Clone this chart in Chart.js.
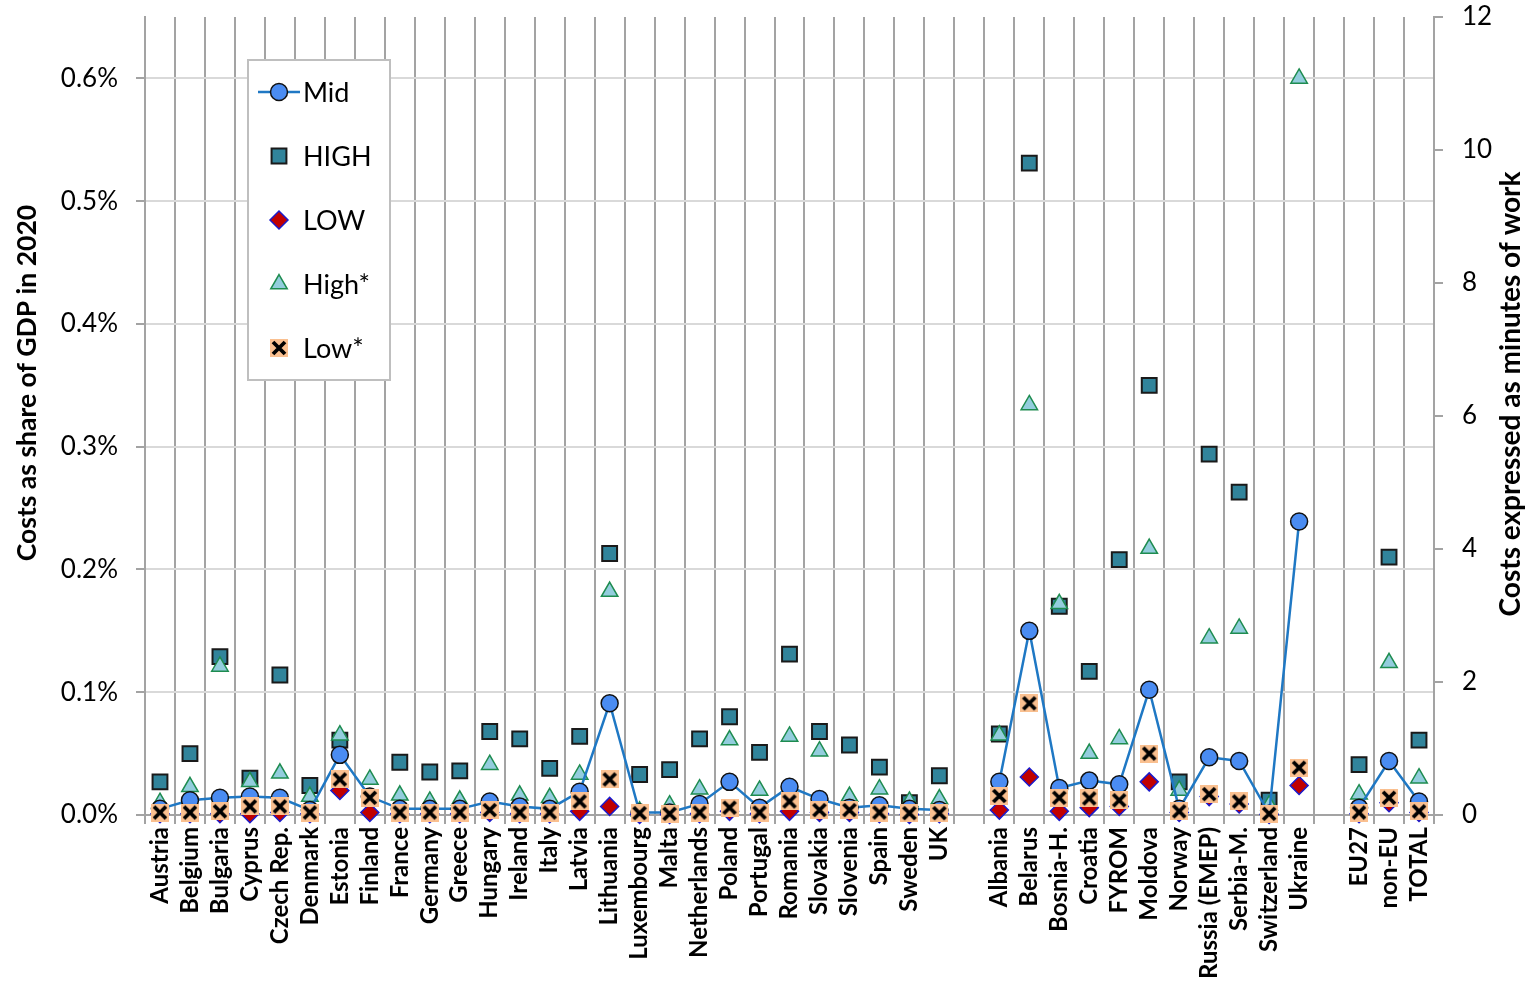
<!DOCTYPE html>
<html>
<head>
<meta charset="utf-8">
<script src="https://cdn.jsdelivr.net/npm/chart.js@4.4.1/dist/chart.umd.min.js"></script>
<style>
  html, body { margin: 0; padding: 0; background: #fff; }
  #wrap { width: 1534px; height: 987px; }
</style>
</head>
<body>
<div id="wrap"><canvas id="chart" width="1534" height="987"></canvas></div>
<script>
// Categories ('' = empty spacer columns)
const countries = ['Austria', 'Belgium', 'Bulgaria', 'Cyprus', 'Czech Rep.', 'Denmark', 'Estonia', 'Finland',
  'France', 'Germany', 'Greece', 'Hungary', 'Ireland', 'Italy', 'Latvia', 'Lithuania', 'Luxembourg', 'Malta',
  'Netherlands', 'Poland', 'Portugal', 'Romania', 'Slovakia', 'Slovenia', 'Spain', 'Sweden', 'UK', '',
  'Albania', 'Belarus', 'Bosnia-H.', 'Croatia', 'FYROM', 'Moldova', 'Norway', 'Russia (EMEP)', 'Serbia-M.',
  'Switzerland', 'Ukraine', '', 'EU27', 'non-EU', 'TOTAL'];

// Costs as % of GDP
const mid = [0.005, 0.012, 0.014, 0.015, 0.014, 0.004, 0.049, 0.015, 0.005, 0.005, 0.005, 0.011, 0.007, 0.005,
  0.019, 0.091, 0.002, 0.002, 0.009, 0.027, 0.006, 0.023, 0.013, 0.006, 0.008, 0.005, 0.004, null,
  0.027, 0.150, 0.022, 0.028, 0.025, 0.102, 0.005, 0.047, 0.044, 0.001, 0.239, null, 0.006, 0.044, 0.011];
const high = [0.027, 0.050, 0.129, 0.030, 0.114, 0.024, 0.061, null, 0.043, 0.035, 0.036, 0.068, 0.062, 0.038,
  0.064, 0.213, 0.033, 0.037, 0.062, 0.080, 0.051, 0.131, 0.068, 0.057, 0.039, 0.010, 0.032, null,
  0.066, 0.531, 0.170, 0.117, 0.208, 0.350, 0.027, 0.294, 0.263, 0.012, null, null, 0.041, 0.210, 0.061];
const low = [0.001, 0.001, 0.001, 0.001, 0.002, 0.001, 0.020, 0.002, 0.001, 0.001, 0.001, 0.002, 0.001, 0.001,
  0.003, 0.007, 0.0005, 0.0005, 0.001, 0.003, 0.001, 0.003, 0.002, 0.002, 0.001, 0.0005, 0.001, null,
  0.004, 0.031, 0.003, 0.006, 0.007, 0.027, 0.002, 0.015, 0.009, 0.0005, 0.024, null, 0.001, 0.010, 0.002];
const highStar = [0.010, 0.023, 0.121, 0.027, 0.034, 0.015, 0.065, 0.029, 0.016, 0.011, 0.012, 0.041, 0.016, 0.014,
  0.033, 0.182, 0.003, 0.008, 0.021, 0.061, 0.020, 0.064, 0.052, 0.015, 0.021, 0.011, 0.013, null,
  0.065, 0.334, 0.172, 0.050, 0.062, 0.217, 0.020, 0.144, 0.152, 0.008, 0.600, null, 0.017, 0.124, 0.030];
const lowStar = [0.002, 0.002, 0.003, 0.007, 0.007, 0.002, 0.029, 0.014, 0.002, 0.002, 0.002, 0.004, 0.002, 0.002,
  0.011, 0.029, 0.0015, 0.001, 0.002, 0.006, 0.002, 0.011, 0.004, 0.004, 0.002, 0.0015, 0.0015, null,
  0.0155, 0.091, 0.014, 0.0135, 0.012, 0.050, 0.003, 0.017, 0.011, 0.001, 0.0385, null, 0.002, 0.014, 0.003];

// Axis ranges
const gdpMax = 0.65;
const minutesMax = 12;

const GRID = '#a3a3a3';
const FONT = 'Lato, "Liberation Sans", sans-serif';
Chart.defaults.font.family = FONT;
Chart.defaults.color = '#000';

// Low* marker: peach square with a black cross
function lowStarMarker(size) {
  const c = document.createElement('canvas');
  c.width = c.height = size;
  const g = c.getContext('2d');
  g.fillStyle = '#fac090';
  g.fillRect(0, 0, size, size);
  g.strokeStyle = '#000';
  g.lineWidth = 3.8;
  g.beginPath();
  g.moveTo(3, 3); g.lineTo(size - 3, size - 3);
  g.moveTo(size - 3, 3); g.lineTo(3, size - 3);
  g.stroke();
  return c;
}
const crossImg = lowStarMarker(18);

const base = { showLine: false, clip: false, yAxisID: 'y' };

const datasets = [
  { label: 'Mid', data: mid, order: 2, clip: false, yAxisID: 'y', showLine: true, spanGaps: false,
    borderColor: '#1f78c4', borderWidth: 2.5, pointStyle: 'circle', pointRadius: 8.5,
    pointBackgroundColor: '#4a8cf2', pointBorderColor: '#111', pointBorderWidth: 1.5 },
  { ...base, label: 'HIGH', data: high, order: 4, pointStyle: 'rect', pointRadius: 10.5,
    pointBackgroundColor: '#31849b', pointBorderColor: '#1a1a1a', pointBorderWidth: 2 },
  { ...base, label: 'LOW', data: low, order: 1, pointStyle: 'rectRot', pointRadius: 9,
    pointBackgroundColor: '#c00000', pointBorderColor: '#1a1acc', pointBorderWidth: 1.5 },
  { ...base, label: 'High*', data: highStar, order: 3, pointStyle: 'triangle', pointRadius: 9.5,
    pointBackgroundColor: '#93cddd', pointBorderColor: '#1e8c50', pointBorderWidth: 1.5 },
  { ...base, label: 'Low*', data: lowStar, order: 0, pointStyle: crossImg, pointRadius: 9 }
];

// Legend box + axis titles drawn over the plot
const overlay = {
  id: 'overlay',
  afterDraw(chart) {
    const ctx = chart.ctx;
    ctx.save();
    // legend box
    ctx.fillStyle = '#fff';
    ctx.fillRect(248, 60, 142, 320);
    ctx.strokeStyle = '#bfbfbf';
    ctx.lineWidth = 2;
    ctx.strokeRect(248, 60, 142, 320);
    chart.data.datasets.forEach((ds, i) => {
      const y = 92 + i * 64, x = 279;
      if (ds.showLine) {
        ctx.strokeStyle = ds.borderColor;
        ctx.lineWidth = ds.borderWidth;
        ctx.beginPath(); ctx.moveTo(258, y); ctx.lineTo(300, y); ctx.stroke();
      }
      ctx.fillStyle = ds.pointBackgroundColor || '#000';
      ctx.strokeStyle = ds.pointBorderColor || '#000';
      ctx.lineWidth = ds.pointBorderWidth || 0;
      Chart.helpers.drawPoint(ctx, {
        pointStyle: ds.pointStyle, radius: ds.pointRadius, rotation: 0,
        borderWidth: ds.pointBorderWidth || 0
      }, x, y);
      ctx.fillStyle = '#000';
      ctx.font = '27px ' + FONT;
      ctx.textAlign = 'left';
      ctx.textBaseline = 'middle';
      ctx.fillText(ds.label, 303, y + 1);
    });
    // axis titles
    ctx.fillStyle = '#000';
    ctx.textAlign = 'center';
    ctx.textBaseline = 'middle';
    ctx.font = 'bold 26.5px ' + FONT;
    ctx.translate(27, 383);
    ctx.rotate(-Math.PI / 2);
    ctx.fillText('Costs as share of GDP in 2020', 0, 0);
    ctx.setTransform(1, 0, 0, 1, 0, 0);
    ctx.font = 'bold 28px ' + FONT;
    ctx.translate(1511, 394);
    ctx.rotate(-Math.PI / 2);
    ctx.fillText('Costs expressed as minutes of work', 0, 0);
    ctx.restore();
  }
};

function fixY(width) {
  return s => { s.width = width; s.paddingTop = 0; s.paddingBottom = 0; };
}

new Chart(document.getElementById('chart'), {
  type: 'line',
  data: { labels: countries, datasets: datasets },
  plugins: [overlay],
  options: {
    responsive: false,
    animation: false,
    events: [],
    layout: { padding: { top: 17, left: 0, right: 0, bottom: 0 } },
    plugins: { legend: { display: false }, tooltip: { enabled: false } },
    scales: {
      x: {
        type: 'category',
        offset: true,
        grid: { offset: true, color: GRID, lineWidth: 2, tickLength: 9 },
        border: { color: GRID, width: 2 },
        ticks: { autoSkip: false, minRotation: 90, maxRotation: 90, padding: 3,
          font: { size: 24, weight: 'bold' }, color: '#000' },
        afterFit(s) { s.height = 172; s.paddingLeft = 0; s.paddingRight = 0; }
      },
      y: {
        position: 'left',
        min: 0, max: gdpMax,
        grid: { color: '#d9d9d9', lineWidth: 2, tickColor: GRID, tickLength: 9 },
        border: { color: GRID, width: 2 },
        ticks: { stepSize: 0.1, padding: 18, font: { size: 26 }, color: '#000',
          callback: v => v.toFixed(1) + '%' },
        afterBuildTicks(s) {
          s.ticks = s.ticks.filter(t => Math.abs(t.value * 10 - Math.round(t.value * 10)) < 1e-6);
        },
        afterFit: fixY(145)
      },
      yR: {
        position: 'right',
        min: 0, max: minutesMax,
        grid: { drawOnChartArea: false, color: GRID, tickLength: 9, lineWidth: 2 },
        border: { color: GRID, width: 2 },
        ticks: { stepSize: 2, padding: 19, font: { size: 26 }, color: '#000' },
        afterFit: fixY(100)
      }
    }
  }
});
</script>
</body>
</html>
